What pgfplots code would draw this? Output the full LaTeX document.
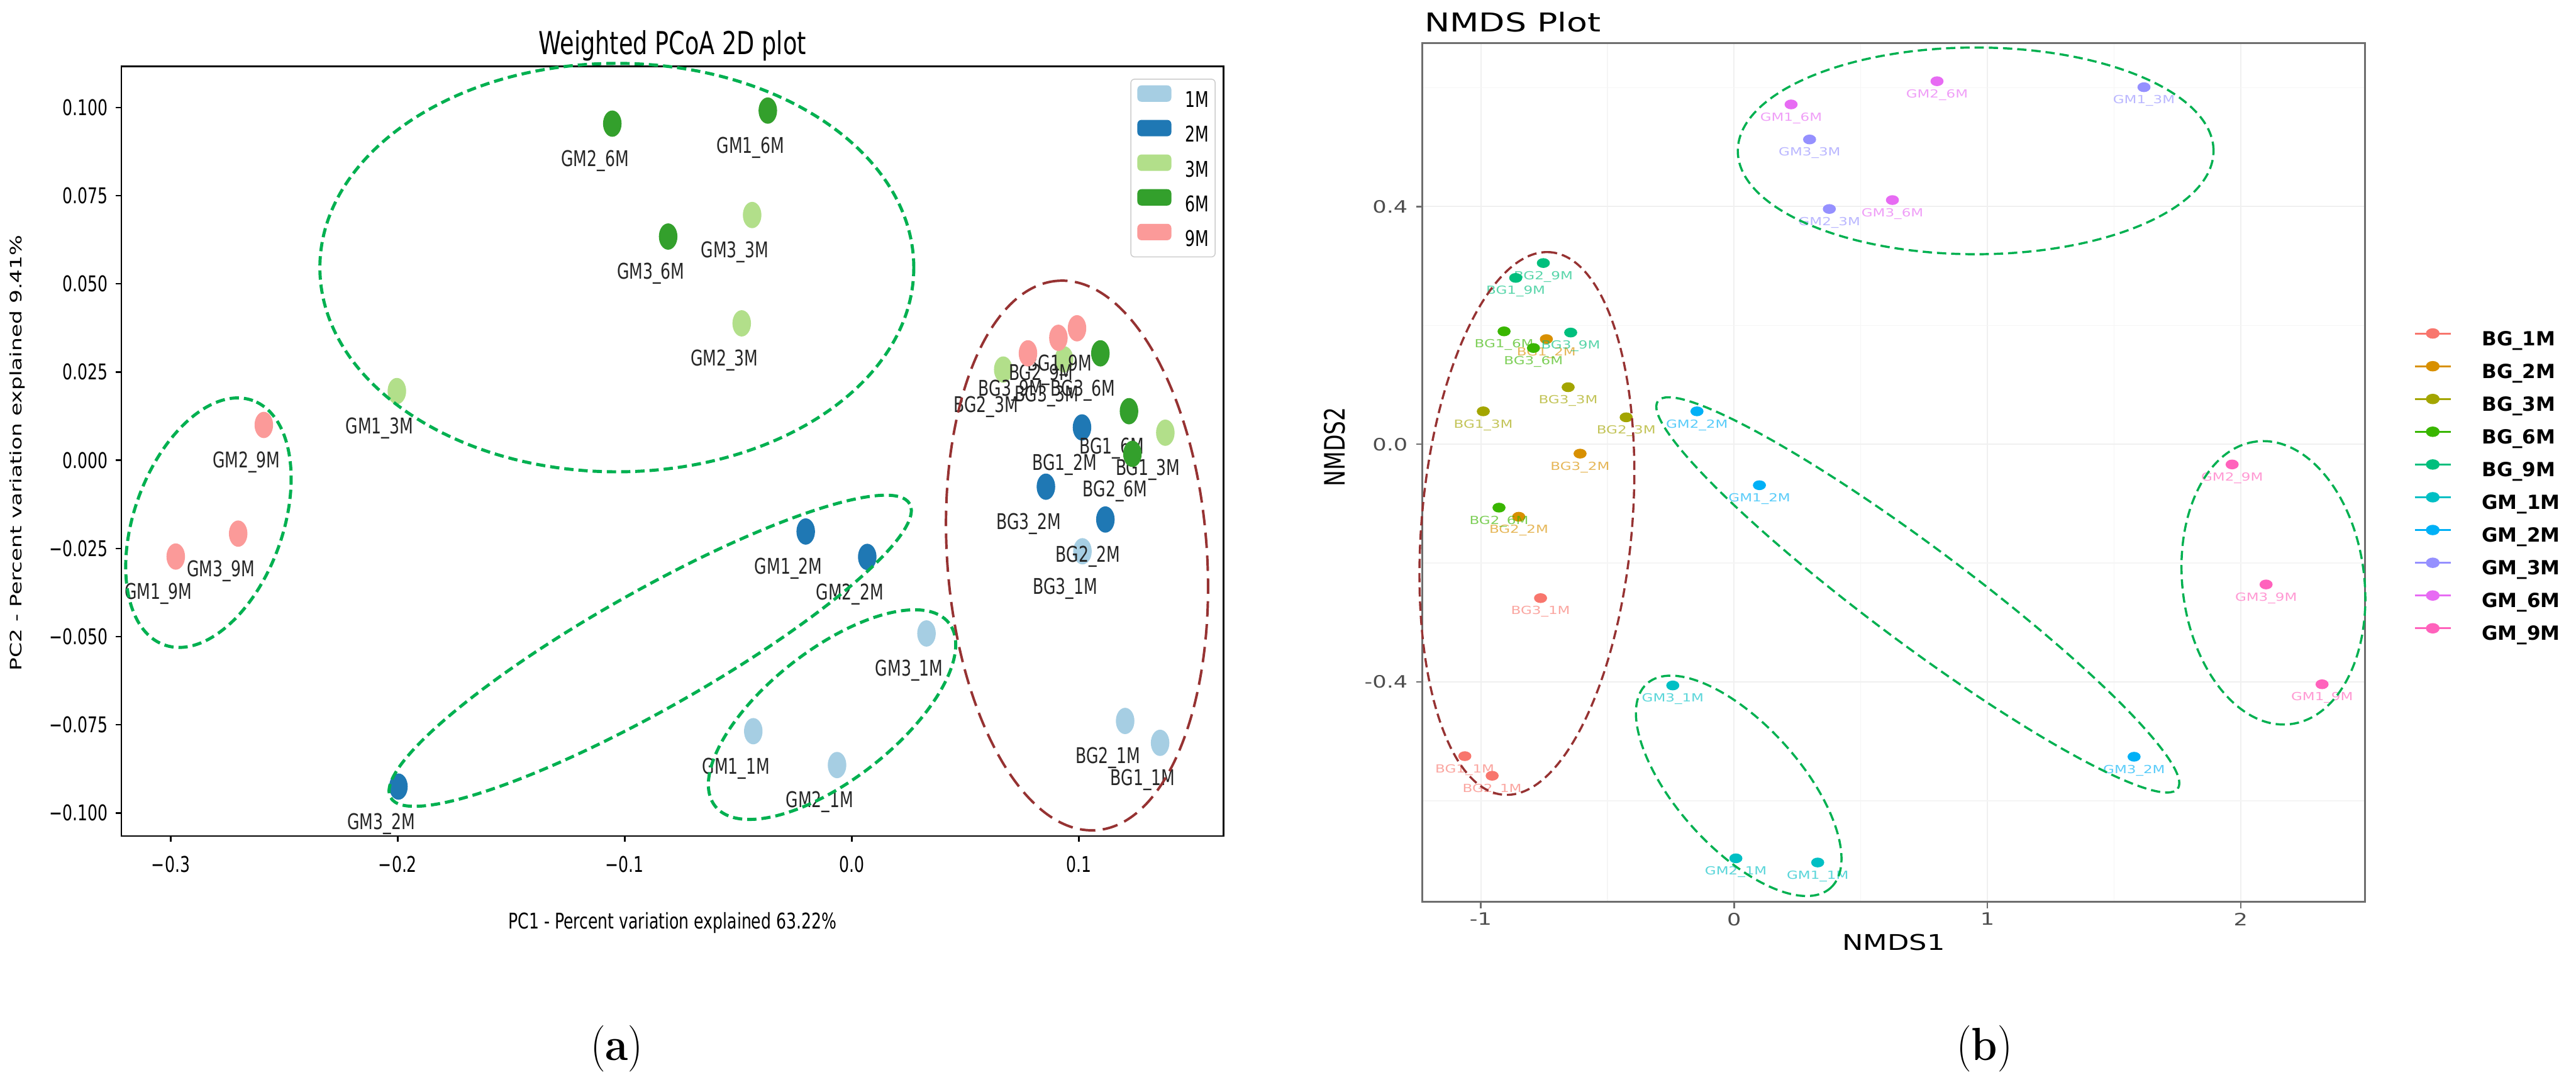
\documentclass[border=0pt]{standalone}
\usepackage{fontspec}
\newfontfamily\dv{DejaVu Sans}
\newfontfamily\fa{DejaVu Sans}[FakeStretch=0.73]
\newfontfamily\fb{DejaVu Sans}[FakeStretch=1.3]
\usepackage{graphicx}
\usepackage{pgfplots}
\pgfplotsset{compat=1.18}

\definecolor{cA1}{HTML}{A6CEE3}
\definecolor{cA2}{HTML}{1F78B4}
\definecolor{cA3}{HTML}{B2DF8A}
\definecolor{cA6}{HTML}{33A02C}
\definecolor{cA9}{HTML}{FB9A99}
\definecolor{cB1}{HTML}{F8766D}
\definecolor{cB2}{HTML}{D89000}
\definecolor{cB3}{HTML}{A3A500}
\definecolor{cB6}{HTML}{39B600}
\definecolor{cB9}{HTML}{00BF7D}
\definecolor{cG1}{HTML}{00BFC4}
\definecolor{cG2}{HTML}{00B0F6}
\definecolor{cG3}{HTML}{9590FF}
\definecolor{cG6}{HTML}{E76BF3}
\definecolor{cG9}{HTML}{FF62BC}
\definecolor{ellG}{HTML}{00B050}
\definecolor{ellR}{HTML}{963232}
\definecolor{frameB}{HTML}{6E6E6E}
\definecolor{tickB}{HTML}{4D4D4D}
\definecolor{legBox}{HTML}{CCCCCC}

\newcommand\lblA{\fa\fontsize{7pt}{8pt}\selectfont}
\newcommand\lblB{\fb\fontsize{3.6pt}{4pt}\selectfont}

\pgfplotsset{
  ptA/.style={forget plot, only marks, mark=*, color=#1, mark size=4.05pt,
    mark options={xscale=0.69, draw=none, fill=#1},
    point meta=explicit symbolic, nodes near coords={\pgfplotspointmeta},
    nodes near coords align={center},
    every node near coord/.append style={font=\lblA, text=black!85, inner sep=0pt, xshift=-5.6pt, yshift=-12pt}},
  ptB/.style={forget plot, only marks, mark=*, color=#1, mark size=1.38pt,
    mark options={xscale=1.38, draw=none, fill=#1},
    point meta=explicit symbolic, nodes near coords={\pgfplotspointmeta},
    nodes near coords align={center},
    every node near coord/.append style={font=\lblB, text=#1, text opacity=0.65, inner sep=0pt, yshift=-4.4pt}},
  legA/.style={legend image code/.code={\fill[#1] (0pt,0.2pt) rectangle (10.7pt,5.2pt);}},
  legB/.style={legend image code/.code={\draw[#1, line width=0.6pt, mark=*, mark size=1.38pt,
    mark options={xscale=1.38, draw=none, fill=#1}, mark repeat=2, mark phase=2]
    plot coordinates {(0pt,2.3pt) (5.8pt,2.3pt) (11.6pt,2.3pt)};}},
}

\begin{document}
\begin{tikzpicture}
% ---------------- (a) ----------------
\begin{axis}[
  at={(39.2pt,79.4pt)}, anchor=south west,
  scale only axis, width=356.4pt, height=248.7pt,
  xmin=-0.3218, xmax=0.1638, ymin=-0.1065, ymax=0.1116,
  clip=false,
  axis line style={black, line width=0.5pt},
  tick pos=left, tick align=outside,
  major tick length=1.8pt,
  tick style={black, line width=0.5pt},
  xtick={-0.3,-0.2,-0.1,0,0.1},
  xticklabels={−0.3,−0.2,−0.1,0.0,0.1},
  ytick={-0.1,-0.075,-0.05,-0.025,0,0.025,0.05,0.075,0.1},
  yticklabels={−0.100,−0.075,−0.050,−0.025,0.000,0.025,0.050,0.075,0.100},
  tick label style={font=\lblA, text=black, inner sep=0pt},
  xticklabel style={anchor=north, yshift=-4.6pt},
  yticklabel style={anchor=east, xshift=-2.3pt},
  title={Weighted PCoA 2D plot},
  title style={at={(0.5,1.0157)}, anchor=base, yshift=-6pt, font=\fa\fontsize{10.2pt}{12pt}\selectfont, inner sep=0pt},
  xlabel={PC1 - Percent variation explained 63.22\%},
  xlabel style={at={(0.5,-0.1206)}, anchor=base, font=\lblA, inner sep=0pt},
  ylabel={\scalebox{1}[0.73]{PC2 - Percent variation explained 9.41\%}},
  ylabel style={at={(-0.0943,0.4978)}, anchor=center, font=\dv\fontsize{7pt}{8pt}\selectfont, inner sep=0pt},
  legend style={at={(0.9158,0.9835)}, anchor=north west, draw=legBox, line width=0.3pt,
    rounded corners=1.2pt, fill=white, inner xsep=2.1pt, inner ysep=2pt, outer sep=0pt,
    row sep=2.5pt, font=\lblA, nodes={inner sep=0pt},
    /tikz/every odd column/.append style={column sep=4.4pt}},
  legend cell align=left,
]
\addlegendimage{legA=cA1}\addlegendentry{1M}
\addlegendimage{legA=cA2}\addlegendentry{2M}
\addlegendimage{legA=cA3}\addlegendentry{3M}
\addlegendimage{legA=cA6}\addlegendentry{6M}
\addlegendimage{legA=cA9}\addlegendentry{9M}

\addplot[ptA=cA1] table[meta=lab]{
x y lab
-0.0434 -0.0768 GM1\_1M
-0.0065 -0.0864 GM2\_1M
0.0329 -0.0491 GM3\_1M
0.1358 -0.0801 BG1\_1M
0.1204 -0.0739 BG2\_1M
0.1016 -0.0258 BG3\_1M
};
\addplot[ptA=cA2] table[meta=lab]{
x y lab
-0.0203 -0.0202 GM1\_2M
0.0068 -0.0274 GM2\_2M
-0.1997 -0.0925 GM3\_2M
0.1014 0.0093 BG1\_2M
0.1117 -0.0168 BG2\_2M
0.0855 -0.0075 BG3\_2M
};
\addplot[ptA=cA3] table[meta=lab]{
x y lab
-0.2004 0.0196 GM1\_3M
-0.0485 0.0388 GM2\_3M
-0.0439 0.0695 GM3\_3M
0.1381 0.0078 BG1\_3M
0.0667 0.0257 BG2\_3M
0.0935 0.0286 BG3\_3M
};
\addplot[ptA=cA6] table[meta=lab]{
x y lab
-0.0370 0.0991 GM1\_6M
-0.1055 0.0954 GM2\_6M
-0.0809 0.0634 GM3\_6M
0.1221 0.0139 BG1\_6M
0.1236 0.0018 BG2\_6M
0.1095 0.0303 BG3\_6M
};
\addplot[ptA=cA9] table[meta=lab]{
x y lab
-0.2978 -0.0273 GM1\_9M
-0.2590 0.0100 GM2\_9M
-0.2703 -0.0208 GM3\_9M
0.0992 0.0374 BG1\_9M
0.0910 0.0347 BG2\_9M
0.0776 0.0303 BG3\_9M
};
\coordinate (E1) at (axis cs:-0.1035,0.0546);
\coordinate (E2) at (axis cs:-0.2834,-0.0177);
\coordinate (E3) at (axis cs:-0.0888,-0.0540);
\coordinate (E4) at (axis cs:-0.0087,-0.0721);
\coordinate (E5) at (axis cs:0.0992,-0.0270);
\end{axis}
\begin{scope}[ellG, line width=1pt, dash pattern=on 3pt off 1.6pt]
\draw (E1) ellipse [x radius=96pt, y radius=66pt];
\draw[rotate around={70:(E2)}] (E2) ellipse [x radius=42pt, y radius=24pt];
\draw[rotate around={29.5:(E3)}] (E3) ellipse [x radius=96.4pt, y radius=19pt];
\draw[rotate around={38:(E4)}] (E4) ellipse [x radius=48pt, y radius=21pt];
\end{scope}
\draw[ellR, line width=0.8pt, dash pattern=on 5pt off 2.4pt, rotate around={94:(E5)}] (E5) ellipse [x radius=89pt, y radius=42pt];

% ---------------- (b) ----------------
\begin{axis}[
  at={(459.8pt,58.06pt)}, anchor=south west,
  scale only axis, width=304.74pt, height=277.56pt,
  xmin=-1.231, xmax=2.490, ymin=-0.7705, ymax=0.675,
  clip=false,
  axis line style={draw=frameB, line width=0.6pt},
  tick pos=left, tick align=outside,
  major tick length=2pt, minor tick length=0pt,
  tick style={draw=frameB, line width=0.5pt},
  xtick={-1,0,1,2}, xticklabels={-1,0,1,2}, minor xtick={-0.5,0.5,1.5},
  ytick={-0.4,0,0.4}, yticklabels={-0.4,0.0,0.4}, minor ytick={-0.6,-0.2,0.2,0.6},
  grid=both,
  major grid style={draw=gray!12, line width=0.4pt},
  minor grid style={draw=gray!8, line width=0.3pt},
  tick label style={font=\fb\fontsize{5.5pt}{6pt}\selectfont, text=tickB, inner sep=0pt},
  xticklabel style={anchor=north, yshift=-1.3pt},
  yticklabel style={anchor=east, xshift=-2.5pt},
  title={NMDS Plot},
  title style={at={(0.002,1.0136)}, anchor=base west, yshift=-6pt, font=\fb\fontsize{8.4pt}{10pt}\selectfont, inner sep=0pt},
  xlabel={NMDS1},
  xlabel style={at={(0.5,-0.0564)}, anchor=base, font=\fb\fontsize{7pt}{8pt}\selectfont, inner sep=0pt},
  ylabel={\scalebox{1}[1.3]{NMDS2}},
  ylabel style={at={(-0.0932,0.53)}, anchor=center, font=\dv\fontsize{7pt}{8pt}\selectfont, inner sep=0pt},
  legend style={at={(1.052,0.667)}, anchor=north west, draw=none, fill=none,
    inner sep=0pt, outer sep=0pt, row sep=3.82pt,
    font=\dv\bfseries\fontsize{6.3pt}{7pt}\selectfont, nodes={inner sep=0pt},
    /tikz/every odd column/.append style={column sep=9.8pt}},
  legend cell align=left,
]
\addlegendimage{legB=cB1}\addlegendentry{BG\_1M}
\addlegendimage{legB=cB2}\addlegendentry{BG\_2M}
\addlegendimage{legB=cB3}\addlegendentry{BG\_3M}
\addlegendimage{legB=cB6}\addlegendentry{BG\_6M}
\addlegendimage{legB=cB9}\addlegendentry{BG\_9M}
\addlegendimage{legB=cG1}\addlegendentry{GM\_1M}
\addlegendimage{legB=cG2}\addlegendentry{GM\_2M}
\addlegendimage{legB=cG3}\addlegendentry{GM\_3M}
\addlegendimage{legB=cG6}\addlegendentry{GM\_6M}
\addlegendimage{legB=cG9}\addlegendentry{GM\_9M}

\addplot[ptB=cB1] table[meta=lab]{
x y lab
-1.063 -0.525 BG1\_1M
-0.955 -0.558 BG2\_1M
-0.764 -0.259 BG3\_1M
};
\addplot[ptB=cB2] table[meta=lab]{
x y lab
-0.741 0.177 BG1\_2M
-0.850 -0.122 BG2\_2M
-0.608 -0.0158 BG3\_2M
};
\addplot[ptB=cB3] table[meta=lab]{
x y lab
-0.990 0.0554 BG1\_3M
-0.426 0.0453 BG2\_3M
-0.655 0.096 BG3\_3M
};
\addplot[ptB=cB6] table[meta=lab]{
x y lab
-0.908 0.190 BG1\_6M
-0.928 -0.1067 BG2\_6M
-0.792 0.162 BG3\_6M
};
\addplot[ptB=cB9] table[meta=lab]{
x y lab
-0.862 0.280 BG1\_9M
-0.753 0.305 BG2\_9M
-0.645 0.188 BG3\_9M
};
\addplot[ptB=cG1] table[meta=lab]{
x y lab
0.330 -0.704 GM1\_1M
0.007 -0.697 GM2\_1M
-0.242 -0.406 GM3\_1M
};
\addplot[ptB=cG2] table[meta=lab]{
x y lab
0.100 -0.069 GM1\_2M
-0.1465 0.0554 GM2\_2M
1.579 -0.526 GM3\_2M
};
\addplot[ptB=cG3] table[meta=lab]{
x y lab
1.618 0.601 GM1\_3M
0.376 0.396 GM2\_3M
0.298 0.513 GM3\_3M
};
\addplot[ptB=cG6] table[meta=lab]{
x y lab
0.225 0.572 GM1\_6M
0.801 0.611 GM2\_6M
0.625 0.411 GM3\_6M
};
\addplot[ptB=cG9] table[meta=lab]{
x y lab
2.321 -0.404 GM1\_9M
1.966 -0.034 GM2\_9M
2.100 -0.236 GM3\_9M
};
\coordinate (F1) at (axis cs:0.9536,0.4938);
\coordinate (F2) at (axis cs:-0.818,-0.1333);
\coordinate (F3) at (axis cs:0.7253,-0.2536);
\coordinate (F4) at (axis cs:0.0183,-0.575);
\coordinate (F5) at (axis cs:2.129,-0.2333);
\end{axis}
\begin{scope}[ellG, line width=0.7pt, dash pattern=on 3pt off 1.6pt]
\draw (F1) ellipse [x radius=76.9pt, y radius=33.4pt];
\draw[rotate around={-36.7:(F3)}] (F3) ellipse [x radius=104.8pt, y radius=15.6pt];
\draw[rotate around={-48:(F4)}] (F4) ellipse [x radius=44.4pt, y radius=20pt];
\draw[rotate around={97:(F5)}] (F5) ellipse [x radius=46pt, y radius=29.4pt];
\end{scope}
\draw[ellR, line width=0.7pt, dash pattern=on 3pt off 1.6pt, rotate around={85:(F2)}] (F2) ellipse [x radius=88pt, y radius=34pt];

% panel captions
\node[font=\fontsize{15pt}{18pt}\selectfont, inner sep=0pt] at (199.4pt,10.6pt) {\scalebox{0.9}[1]{(\textbf{a})}};
\node[font=\fontsize{15pt}{18pt}\selectfont, inner sep=0pt] at (641.6pt,10.6pt) {\scalebox{0.9}[1]{(\textbf{b})}};

\pgfresetboundingbox
\useasboundingbox (0pt,0pt) rectangle (832.8pt,349.6pt);
\end{tikzpicture}
\end{document}
